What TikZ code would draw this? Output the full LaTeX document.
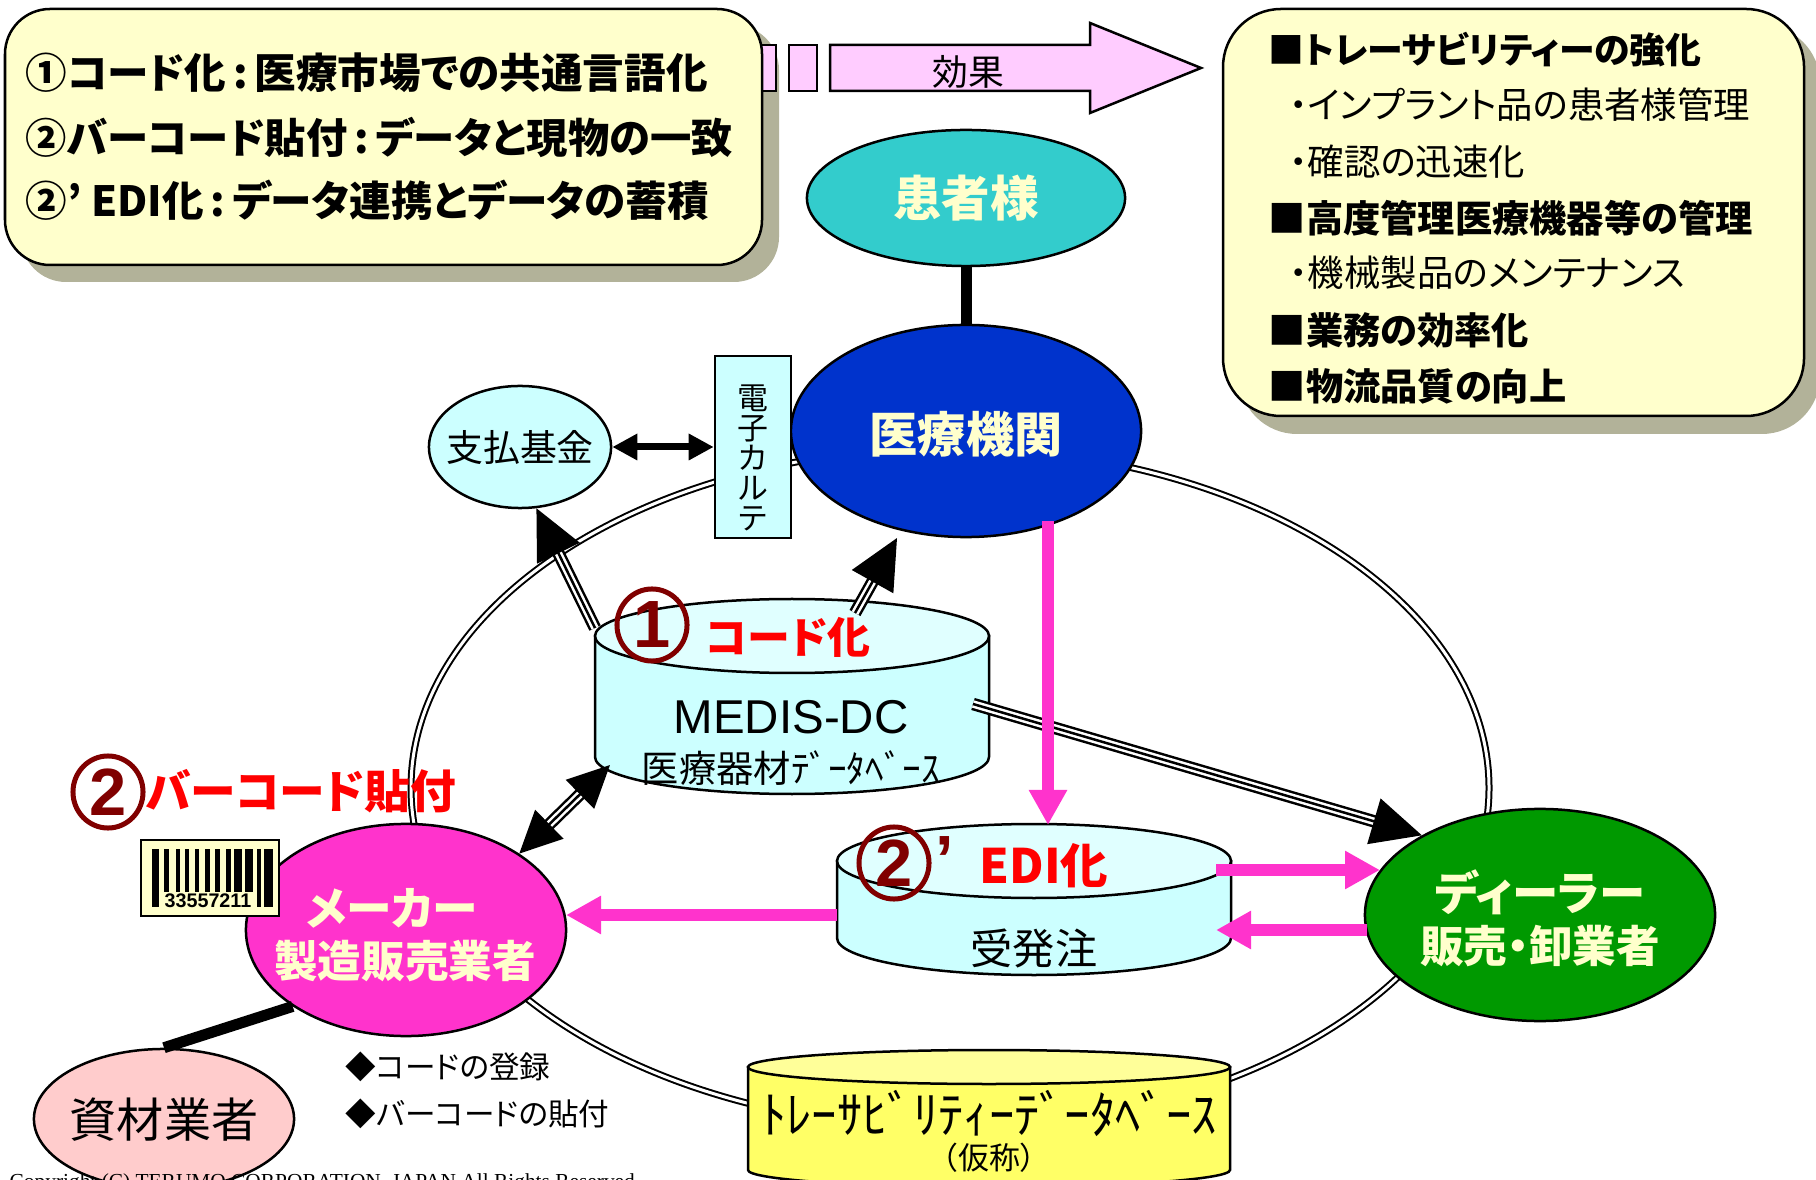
\documentclass[tikz,border=0pt]{standalone}
\usepackage{fontspec}
\setmainfont{Noto Sans CJK JP}[RawFeature=+palt]
\newfontfamily\jpfull{Noto Sans CJK JP}
\newfontfamily\arialfont{Liberation Sans}
\newfontfamily\timesfont{Liberation Serif}
\usetikzlibrary{arrows.meta,shapes.geometric}
\definecolor{boxcream}{HTML}{FFFFCC}
\definecolor{boxshadow}{HTML}{B2B299}
\definecolor{effectpink}{HTML}{FFCCFF}
\definecolor{linkpink}{HTML}{FF33CC}
\definecolor{palecyan}{HTML}{CCFFFF}
\definecolor{topcyan}{HTML}{E0FFFF}
\definecolor{badgered}{HTML}{800000}
\definecolor{dbyellow}{HTML}{FFFF66}
\definecolor{topyellow}{HTML}{FFFF99}
\def\fs#1{\fontsize{#1}{#1}\selectfont}
\def\drum[#1][#2](#3:#4:#5:#6:#7){
	\draw[outline, fill=#1] (#3-#4,#5) -- (#3-#4,#6) arc (180:0:#4 and #7) -- (#3+#4,#5) -- cycle;
	\draw[outline, fill=#2] (#3,#5) ellipse (#4 and #7);
}
\def\triarrow[#1][#2](#3)(#4){
	\draw[tristem, #1] (#3) -- (#4);
	\draw[line width=0.025cm, #2] (#3) -- (#4);
}
\tikzset{
	outline/.style={draw=black, line width=0.025cm},
	oval/.style={ellipse, outline, inner sep=0},
	tag/.style={inner sep=0, text=black},
	lead/.style={tag, anchor=west},
	badge/.style={ellipse, draw=badgered, line width=0.05cm, minimum width=0.7cm, minimum height=0.72cm, inner sep=0, text=badgered, font=\arialfont\bfseries\fs{19}},
	redtag/.style={tag, text=red, font=\bfseries\fs{12.2}},
	creamtag/.style={tag, text=boxcream, font=\bfseries\fs{12.4}},
	ring/.style={line width=0.02cm, double=white, double distance=0.03cm},
	tristem/.style={line width=0.025cm, double=white, double distance=0.075cm},
	bigtip/.style={-{Triangle[length=0.5cm,width=0.47cm]}},
	pinklink/.style={linkpink, line width=0.12cm, -{Triangle[length=0.35cm,width=0.36cm]}},
}
\begin{document}
\begin{tikzpicture}[x=0.01cm, y=-0.01cm]
	\useasboundingbox (0,0) rectangle (1816,1180);
	\clip (0,0) rectangle (1816,1180);
	
	%%%%% RING %%%%%
	\draw[ring] (950,788) ellipse (539 and 340);
	
	%%%%% TOP BOXES %%%%%
	\fill[boxshadow] (21,25) [rounded corners=0.45cm] rectangle (779,282);
	\draw[outline, fill=effectpink] (740,45) rectangle (776,91);
	\draw[outline, fill=effectpink] (789,45) rectangle (817,91);
	\draw[outline, fill=effectpink] (830,45) -- (1090,45) -- (1090,23) -- (1201,68) -- (1090,113) -- (1090,91) -- (830,91) -- cycle;
	\node[tag, font=\fs{10.2}] (effect) at (968,72) {効果};
	\draw[outline, fill=boxcream] (5,9) [rounded corners=0.45cm] rectangle (762,265);
	
	\node[lead, font=\bfseries\fs{11.82}] (goala) at (25,73) {{\jpfull ①}コード化\,:\,医療市場での共通言語化};
	\node[lead, font=\bfseries\fs{11.75}] (goalb) at (25,137) {{\jpfull ②}バーコード貼付\,:\,データと現物の一致};
	\node[lead, font=\bfseries\fs{11.82}] (goalc) at (25,200) {{\jpfull ②}’ EDI化\,:\,データ連携とデータの蓄積};
	
	\fill[boxshadow] (1239,25) [rounded corners=0.58cm] rectangle (1820,434);
	\draw[outline, fill=boxcream] (1223,9) [rounded corners=0.58cm] rectangle (1804,416);
	
	\node[lead, font=\bfseries\fs{10.2}] (gaina) at (1268,50) {■トレーサビリティーの強化};
	\node[lead, font=\fs{10.35}] (gainb) at (1289,105) {・インプラント品の患者様管理};
	\node[lead, font=\fs{10.35}] (gainc) at (1289,162) {・確認の迅速化};
	\node[lead, font=\bfseries\fs{10.6}] (gaind) at (1268,218) {■高度管理医療機器等の管理};
	\node[lead, font=\fs{10.35}] (gaine) at (1289,273) {・機械製品のメンテナンス};
	\node[lead, font=\bfseries\fs{10.6}] (gainf) at (1268,330) {■業務の効率化};
	\node[lead, font=\bfseries\fs{10.6}] (gaing) at (1268,386) {■物流品質の向上};
	
	%%%%% PARTIES %%%%%
	\node[oval, fill=palecyan, minimum width=1.82cm, minimum height=1.22cm] (fund) at (520,447) {};
	\node[tag, font=\fs{10.5}] (fundname) at (520,448) {支払基金};
	\node[oval, fill=linkpink, minimum width=3.2cm, minimum height=2.12cm] (maker) at (406,930) {};
	\node[oval, fill=green!60!black, minimum width=3.5cm, minimum height=2.12cm] (dealer) at (1540,915) {};
	\node[oval, fill={rgb,255:red,255;green,204;blue,204}, minimum width=2.6cm, minimum height=1.4cm] (supplier) at (164,1119) {};
	\node[tag, font=\fs{13.4}] (suppliername) at (164,1120) {資材業者};
	\node[oval, fill={rgb,255:red,51;green,204;blue,204}, minimum width=3.18cm, minimum height=1.36cm, text=boxcream, font=\bfseries\fs{13.8}] (patient) at (966,198) {患者様};
	\node[oval, fill={rgb,255:red,0;green,51;blue,204}, minimum width=3.5cm, minimum height=2.12cm] (hospital) at (966,431) {};
	\node[tag, text=boxcream, font=\bfseries\fs{13.7}] (hospitalname) at (966,434) {医療機関};
	\node[outline, rectangle, fill=palecyan, minimum width=0.76cm, minimum height=1.82cm, inner sep=0] (karte) at (753,447) {};
	\node[tag, align=center, font=\fontsize{8.8}{8.5}\selectfont] (kartename) at (753,458) {電\\子\\カ\\ル\\テ};
	
	\node[creamtag, font=\bfseries\fs{13}] (makername) at (392,908) {メーカー};
	\node[creamtag] (makerrole) at (405,961) {製造販売業者};
	\node[creamtag, font=\bfseries\fs{13.2}] (dealername) at (1540,892) {ディーラー};
	\node[creamtag] (dealerrole) at (1540,946) {販売・卸業者};
	
	\draw[line width=0.11cm] (patient) -- (hospital);
	\draw[line width=0.11cm] (maker.-146) -- (supplier.90);
	\draw[line width=0.07cm, {Triangle[length=0.25cm,width=0.25cm]}-{Triangle[length=0.25cm,width=0.25cm]}] (fund) -- (karte);
	
	%%%%% DRUMS %%%%%
	\coordinate (medisfund) at (595,628);
	\coordinate (medishosp) at (855,613);
	\coordinate (medisdeal) at (973,704);
	\coordinate (medismake) at (610,765);
	\coordinate (hospin) at (897,538);
	\coordinate (hospdown) at (1048,521);
	\coordinate (ediup) at (1048,825);
	\coordinate (edileft) at (837,915);
	\coordinate (makerin) at (566,915);
	\coordinate (ediouta) at (1216,870);
	\coordinate (dealerina) at (1380,870);
	\coordinate (dealerout) at (1367,930);
	\coordinate (ediinb) at (1216,930);
	
	\drum[palecyan][topcyan](792:197:636:757:37)
	\drum[palecyan][topcyan](1034:197:861:938:37)
	\drum[dbyellow][topyellow](989:241:1067:1170:17)
	
	\node[tag, font=\arialfont\fs{13.5}] (medisname) at (791,717) {MEDIS-DC};
	\node[tag, font=\jpfull\fs{10.6}] (medisnote) at (791,768) {医療器材ﾃﾞｰﾀﾍﾞｰｽ};
	\node[tag, font=\fs{12}] (order) at (1034,948) {受発注};
	\node[tag, font=\jpfull\fs{14.4}] (dbname) at (989,1113) {ﾄﾚｰｻﾋﾞﾘﾃｨｰﾃﾞｰﾀﾍﾞｰｽ};
	\node[tag, font=\jpfull\fs{8.8}] (dbnote) at (989,1158) {（仮称）};
	
	%%%%% LINKS %%%%%
	\triarrow[shorten >=0.4cm][bigtip](medisfund)(fund.-75)
	\triarrow[shorten >=0.4cm][bigtip](medishosp)(hospin)
	\triarrow[shorten >=0.4cm][bigtip](medisdeal)(dealer.146.5)
	\triarrow[shorten >=0.35cm, shorten <=0.35cm][{Triangle[length=0.42cm,width=0.4cm]}-{Triangle[length=0.42cm,width=0.4cm]}](maker.34)(medismake)
	
	\draw[pinklink] (hospdown) -- (ediup);
	\draw[pinklink] (edileft) -- (makerin);
	\draw[pinklink] (ediouta) -- (dealerina);
	\draw[pinklink] (dealerout) -- (ediinb);
	
	%%%%% BARCODE %%%%%
	\draw[outline, fill=boxcream] (141,840) rectangle (279,916);
	\fill (152,849) rectangle (159,907);
	\fill (164,849) rectangle (169,892);
	\fill (176,849) rectangle (180,892);
	\fill (185,849) rectangle (189,892);
	\fill (195,849) rectangle (199,892);
	\fill (205,849) rectangle (210,892);
	\fill (215,849) rectangle (220,892);
	\fill (226,849) rectangle (231,892);
	\fill (234,849) rectangle (242,892);
	\fill (245,849) rectangle (253,892);
	\fill (257,849) rectangle (261,907);
	\fill (264,849) rectangle (273,907);
	\node[tag, font=\arialfont\bfseries\fs{5.6}] (barcode) at (208,901) {33557211};
	
	%%%%% CALLOUTS %%%%%
	\node[badge] (badgecode) at (652,625) {1};
	\node[redtag] (codetag) at (788,637) {コード化};
	\node[badge] (badgebar) at (108,792) {2};
	\node[redtag, font=\bfseries\fs{13}] (bartag) at (301,791) {バーコード貼付};
	\node[badge] (badgeedi) at (894,863) {2};
	\node[tag, text=badgered, font=\arialfont\bfseries\fs{19}] (primeedi) at (945,860) {’};
	\node[redtag, font=\bfseries\fs{13.5}] (editag) at (1044,866) {EDI化};
	
	\node[lead, font=\fs{8.7}] (taska) at (345,1067) {◆コードの登録};
	\node[lead, font=\fs{8.7}] (taskb) at (345,1114) {◆バーコードの貼付};
	
	\node[lead, font=\timesfont\fs{6.08}] (copyright) at (9,1183) {Copyright (C) TERUMO CORPORATION, JAPAN All Rights Reserved.};
\end{tikzpicture}
\end{document}
